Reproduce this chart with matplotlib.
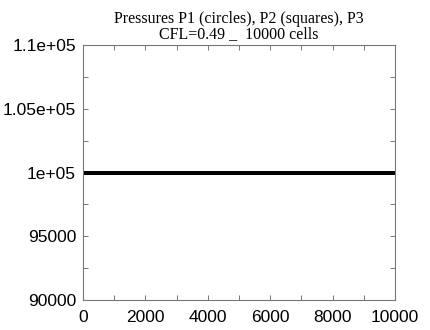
import matplotlib
matplotlib.use("Agg")
import matplotlib.pyplot as plt
from matplotlib.ticker import MultipleLocator

# Datos (presiones constantes a lo largo de la malla)
cells = [0, 10000]
p1 = [100000, 100000]
p2 = [100000, 100000]
p3 = [100000, 100000]

x_ticks = [0, 2000, 4000, 6000, 8000, 10000]
y_ticks = [90000, 95000, 100000, 105000, 110000]
y_labels = ["90000", "95000", "1e+05", "1.05e+05", "1.1e+05"]

title = "Pressures P1 (circles), P2 (squares), P3\nCFL=0.49 _  10000 cells"

fig = plt.figure(figsize=(4.31, 3.30), dpi=100)
ax = fig.add_axes([0.1926, 0.0909, 0.7239, 0.7727])

ax.plot(cells, p1, color="black", linewidth=2.8, solid_capstyle="butt")
ax.plot(cells, p2, color="black", linewidth=2.8, solid_capstyle="butt")
ax.plot(cells, p3, color="black", linewidth=2.8, solid_capstyle="butt")

ax.set_xlim(0, 10000)
ax.set_ylim(90000, 110000)
ax.set_xticks(x_ticks)
ax.set_xticklabels([str(v) for v in x_ticks])
ax.set_yticks(y_ticks)
ax.set_yticklabels(y_labels)
ax.xaxis.set_minor_locator(MultipleLocator(1000))
ax.yaxis.set_minor_locator(MultipleLocator(2500))

for s in ax.spines.values():
    s.set_color("#777777")
    s.set_linewidth(0.8)

ax.tick_params(which="both", direction="in", top=True, right=True,
               color="#777777", width=0.7)
ax.tick_params(which="major", length=3.5, labelsize=12.5)
ax.tick_params(axis="x", which="major", pad=7)
ax.tick_params(axis="y", which="major", pad=5)
ax.tick_params(which="minor", length=3.5)
for lab in ax.get_xticklabels() + ax.get_yticklabels():
    lab.set_family(["Liberation Sans", "DejaVu Sans"])

ax.set_title(title, family=["Liberation Serif", "DejaVu Serif"],
             fontsize=11.5, linespacing=0.95, pad=5)

fig.savefig("out.png", dpi=100)
